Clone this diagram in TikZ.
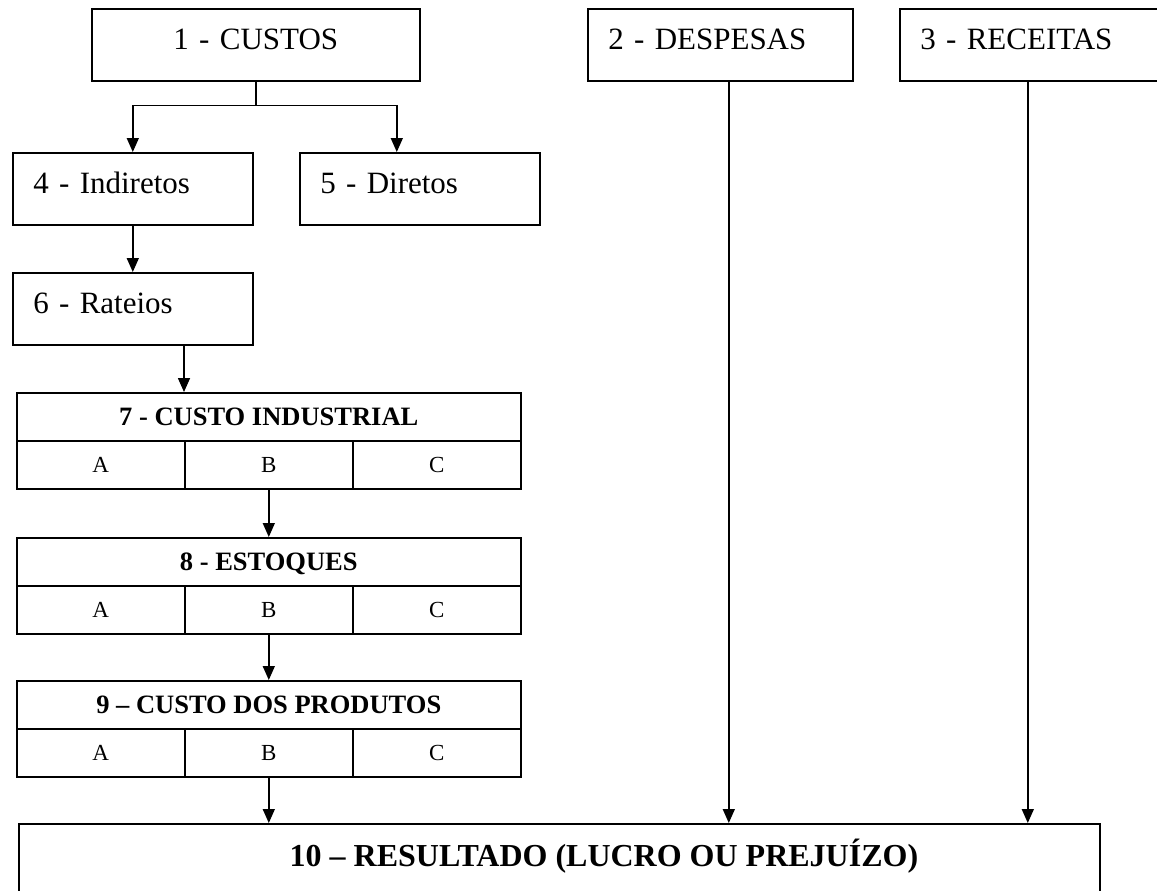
\documentclass[tikz,border=0pt]{standalone}
\usepackage{fontspec}
\setmainfont{Liberation Serif}
\usepackage{tikz}
\usetikzlibrary{arrows.meta}

\tikzset{
	caixa/.style={draw, line width=1.6pt, anchor=north west, inner xsep=20.5pt, inner ysep=0pt,
		minimum height=72pt, text height=9pt, text depth=0pt, align=left,
		font=\fontsize{31}{37}\selectfont},
	titulo/.style={draw, line width=1.6pt, anchor=north west, inner sep=0pt,
		minimum width=504pt, minimum height=48pt, text depth=0pt,
		font=\fontsize{26.5}{32}\selectfont\bfseries},
	celula/.style={draw, line width=1.6pt, anchor=north west, inner sep=0pt,
		minimum width=168pt, minimum height=48pt, text depth=0pt,
		font=\fontsize{23}{28}\selectfont},
	seta/.style={line width=1.6pt, -{Triangle[length=14pt, width=12pt]}}
}

\begin{document}
\begin{tikzpicture}[x=1pt, y=-1pt]
	
	\useasboundingbox (0,0) rectangle (1157,891);
	\clip (0,0) rectangle (1157,891);
	
	% Caixas do topo
	\node[caixa, align=center, text width=287pt] (custos) at (91,8) {1 - CUSTOS};
	\node[caixa, text width=224pt] (despesas) at (587,8) {2 - DESPESAS};
	\node[caixa, text width=249pt] (receitas) at (899,8) {3 - RECEITAS};
	
	% Custos indiretos e diretos
	\node[caixa, text width=199pt] (indiretos) at (12,152) {4 - Indiretos};
	\node[caixa, text width=199pt] (diretos) at (299,152) {5 - Diretos};
	\node[caixa, text width=199pt] (rateios) at (12,272) {6 - Rateios};
	
	% Custo industrial
	\node[titulo] (industrial) at (16,392) {7 - CUSTO INDUSTRIAL};
	\node[celula] (industrialA) at (16,440) {A};
	\node[celula] (industrialB) at (184,440) {B};
	\node[celula] (industrialC) at (352,440) {C};
	
	% Estoques
	\node[titulo] (estoques) at (16,537) {8 - ESTOQUES};
	\node[celula] (estoquesA) at (16,585) {A};
	\node[celula] (estoquesB) at (184,585) {B};
	\node[celula] (estoquesC) at (352,585) {C};
	
	% Custo dos produtos
	\node[titulo] (produtos) at (16,680) {9 -- CUSTO DOS PRODUTOS};
	\node[celula] (produtosA) at (16,728) {A};
	\node[celula] (produtosB) at (184,728) {B};
	\node[celula] (produtosC) at (352,728) {C};
	
	% Resultado
	\node[draw, line width=1.6pt, anchor=north west, minimum width=1081pt, minimum height=82pt] (resultado) at (18,823) {};
	\node[anchor=base, inner sep=0pt, font=\fontsize{32}{38}\selectfont\bfseries] (resultadoT) at (604,866) {10 -- RESULTADO (LUCRO OU PREJUÍZO)};
	
	% Setas
	\draw[line width=1.6pt] (custos.south) -- ++(0,24) coordinate (ramo);
	\draw[seta] (ramo) -| (indiretos.north);
	\draw[seta] (ramo) -| ([xshift=-23pt]diretos.north);
	\draw[seta] (indiretos.south) -- (rateios.north);
	\draw[seta] (rateios.south -| industrialB.west) -- (industrial.north -| industrialB.west);
	\draw[seta] (industrialB.south) -- (estoques.north);
	\draw[seta] (estoquesB.south) -- (produtos.north);
	\draw[seta] (produtosB.south) -- (produtosB.south |- resultado.north);
	\draw[seta] ([xshift=8.5pt]despesas.south) -- ([xshift=8.5pt]despesas.south |- resultado.north);
	\draw[seta] ([xshift=-17pt]receitas.south) -- ([xshift=-17pt]receitas.south |- resultado.north);
\end{tikzpicture}
\end{document}
